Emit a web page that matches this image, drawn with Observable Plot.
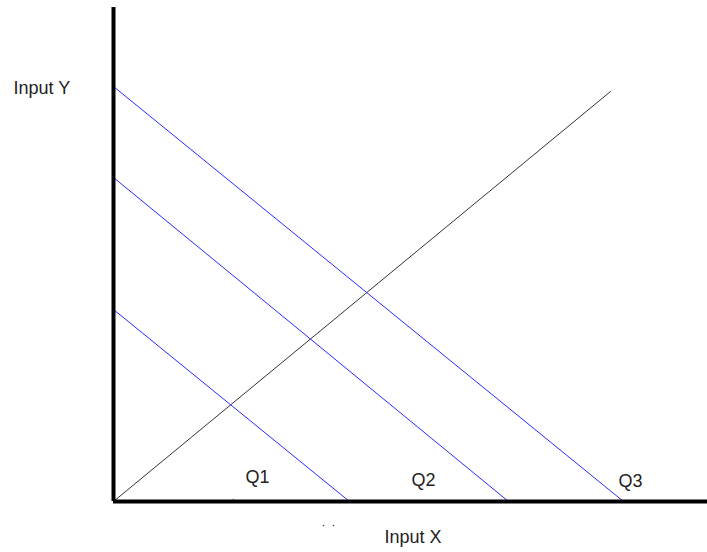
<!DOCTYPE html>
<html>
<head>
<meta charset="utf-8">
<script src="https://cdn.jsdelivr.net/npm/d3@7"></script>
<script src="https://cdn.jsdelivr.net/npm/@observablehq/plot@0.6"></script>
<style>
  html, body { margin: 0; padding: 0; background: #fff; }
  #chart svg { display: block; }
</style>
</head>
<body>
<div id="chart"></div>
<script>
// Isoquant labels and their intercepts (chart units)
const quantNames = ["Q1", "Q2", "Q3"];
const yIntercepts = [192, 324, 415];
const xIntercepts = [236, 395, 510];
// label positions for Q1..Q3
const labelX = [144, 310, 517];
const labelY = [24, 21, 20];
// expansion path (ray from origin)
const rayX = [0, 497];
const rayY = [0, 410];
// axis titles
const axisTitles = ["Input Y", "Input X"];
const titleX = [-100, 271];
const titleY = [413, -36];
// stray marks
const dotX = [210, 220, 120];
const dotY = [-24, -24, 2];

const isoquants = quantNames.flatMap((q, i) => [
  {q, x: 0, y: yIntercepts[i]},
  {q, x: xIntercepts[i], y: 0}
]);
const ray = rayX.map((x, i) => ({x, y: rayY[i]}));
const qLabels = quantNames.map((q, i) => ({q, x: labelX[i], y: labelY[i]}));
const titles = axisTitles.map((t, i) => ({t, x: titleX[i], y: titleY[i]}));
const dots = dotX.map((x, i) => ({x, y: dotY[i]}));

const font = "Liberation Sans, Arial, sans-serif";

const chart = Plot.plot({
  width: 707,
  height: 552,
  marginLeft: 113,
  marginRight: 0,
  marginTop: 7,
  marginBottom: 51,
  x: {domain: [0, 594], range: [113, 707], axis: null},
  y: {domain: [0, 494], range: [501, 7], axis: null},
  style: {fontFamily: font, background: "#fff"},
  marks: [
    Plot.line(ray, {x: "x", y: "y", stroke: "#333", strokeWidth: 1}),
    Plot.line(isoquants, {x: "x", y: "y", z: "q", stroke: "#2a2aff", strokeWidth: 1}),
    Plot.ruleX([0], {y1: 0, y2: 494, stroke: "#000", strokeWidth: 4}),
    Plot.ruleY([0], {x1: 0, x2: 594, stroke: "#000", strokeWidth: 4}),
    Plot.dot(dots, {x: "x", y: "y", r: 0.8, fill: "#444", stroke: null}),
    Plot.text(qLabels, {x: "x", y: "y", text: "q", fontSize: 18, fill: "#222", textAnchor: "middle", letterSpacing: 1}),
    Plot.text(titles, {x: "x", y: "y", text: "t", fontSize: 18, fill: "#222", textAnchor: "start", letterSpacing: 1})
  ]
});
document.getElementById("chart").append(chart);
</script>
</body>
</html>
